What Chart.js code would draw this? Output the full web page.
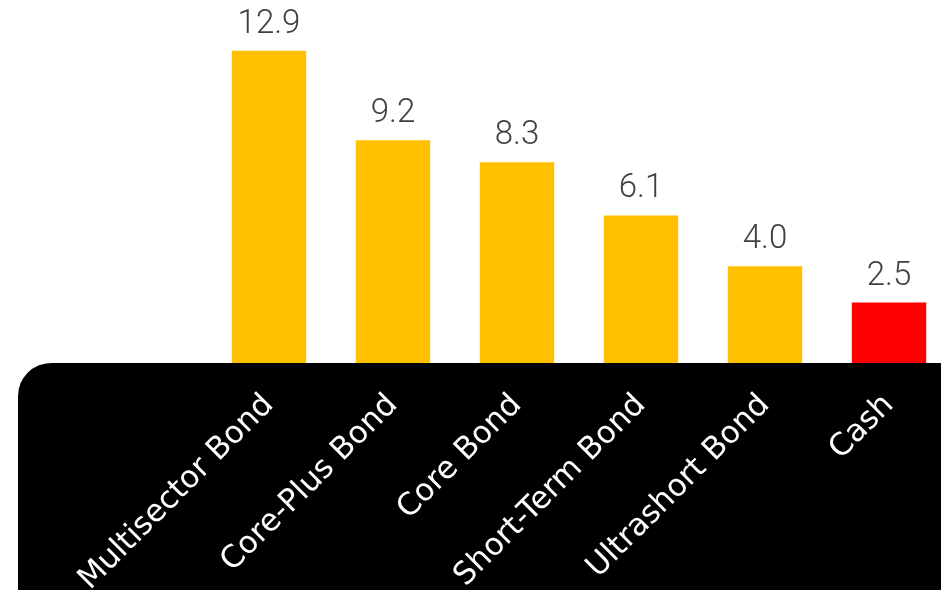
<!DOCTYPE html>
<html>
<head>
<meta charset="utf-8">
<script src="https://cdn.jsdelivr.net/npm/chart.js@4"></script>
<style>
  html, body { margin: 0; padding: 0; background: #fff; overflow: hidden; }
  #wrap { width: 941px; height: 590px; overflow: hidden; }
</style>
</head>
<body>
<div id="wrap"><canvas id="bondChart" width="960" height="590"></canvas></div>
<script>
const categories = ['Multisector Bond', 'Core-Plus Bond', 'Core Bond', 'Short-Term Bond', 'Ultrashort Bond', 'Cash'];
const yields = [12.9, 9.2, 8.3, 6.1, 4.0, 2.5];
const barColors = ['#FFC000', '#FFC000', '#FFC000', '#FFC000', '#FFC000', '#FF0000'];

// black panel behind the category labels
const panelPlugin = {
    id: 'panel',
    beforeDraw(chart) {
        const ctx = chart.ctx;
        const top = chart.chartArea.bottom;
        const left = 18, r = 33;
        const right = chart.width, bottom = chart.height;
        ctx.save();
        ctx.fillStyle = '#000';
        ctx.beginPath();
        ctx.moveTo(left, bottom);
        ctx.lineTo(left, top + r);
        ctx.arcTo(left, top, left + r, top, r);
        ctx.lineTo(right, top);
        ctx.lineTo(right, bottom);
        ctx.closePath();
        ctx.fill();
        ctx.restore();
    }
};

// value labels above bars
const valuePlugin = {
    id: 'values',
    afterDatasetsDraw(chart) {
        const ctx = chart.ctx;
        const meta = chart.getDatasetMeta(0);
        ctx.save();
        ctx.fillStyle = '#404040';
        ctx.font = '300 33px Roboto';
        ctx.textAlign = 'center';
        ctx.textBaseline = 'alphabetic';
        meta.data.forEach((bar, i) => {
            ctx.fillText(yields[i].toFixed(1), bar.x, bar.y - 18);
        });
        ctx.restore();
    }
};

new Chart(document.getElementById('bondChart'), {
    type: 'bar',
    data: {
        labels: categories,
        datasets: [{
            data: yields,
            backgroundColor: barColors,
            borderWidth: 0,
            categoryPercentage: 1,
            barPercentage: 0.6
        }]
    },
    options: {
        responsive: false,
        animation: false,
        layout: { padding: { left: 207, right: 9, top: 0, bottom: 0 } },
        plugins: { legend: { display: false }, tooltip: { enabled: false } },
        scales: {
            x: {
                grid: { display: false, drawTicks: false },
                border: { display: false },
                ticks: {
                    color: '#fff',
                    font: { family: 'DejaVu Sans', size: 31 },
                    minRotation: 45,
                    maxRotation: 45,
                    padding: 24,
                    autoSkip: false
                },
                afterFit(scale) {
                    scale.height = 227;
                    scale.paddingLeft = 0;
                    scale.paddingRight = 0;
                }
            },
            y: { display: false, min: 0, max: 15 }
        }
    },
    plugins: [panelPlugin, valuePlugin]
});
</script>
</body>
</html>
